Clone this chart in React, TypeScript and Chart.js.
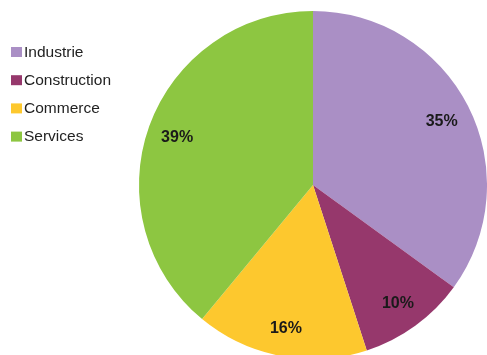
import React, { useEffect, useRef } from "react";
import { Chart, registerables } from "chart.js";

Chart.register(...registerables);

const categories = ["Industrie", "Construction", "Commerce", "Services"];
const shares = [35, 10, 16, 39];
const percentLabels = ["35%", "10%", "16%", "39%"];
const sliceColors = ["#AA8FC5", "#96386C", "#FDC82E", "#8DC641"];

const legendPlugin = {
  id: "sideLegend",
  afterDraw(chart: any) {
    const ctx = chart.ctx;
    const labels = chart.data.labels as string[];
    const colors = chart.data.datasets[0].backgroundColor as string[];
    ctx.save();
    ctx.font = "15.5px 'Liberation Sans', Arial, sans-serif";
    ctx.textBaseline = "middle";
    ctx.textAlign = "left";
    labels.forEach((lab, i) => {
      const cy = 52 + i * 28.2;
      ctx.fillStyle = colors[i];
      ctx.fillRect(11, cy - 5, 11, 10);
      ctx.fillStyle = "#222222";
      ctx.fillText(lab, 24, cy + 0.5);
    });
    ctx.restore();
  },
};

const pctPlugin = {
  id: "pctLabels",
  afterDatasetsDraw(chart: any) {
    const ctx = chart.ctx;
    const meta = chart.getDatasetMeta(0);
    ctx.save();
    ctx.font = "bold 16px 'Liberation Sans', Arial, sans-serif";
    ctx.fillStyle = "#1a1a1a";
    ctx.textAlign = "center";
    ctx.textBaseline = "middle";
    meta.data.forEach((arc: any, i: number) => {
      const { startAngle, endAngle, outerRadius, x, y } = arc.getProps(
        ["startAngle", "endAngle", "outerRadius", "x", "y"],
        true
      );
      const mid = (startAngle + endAngle) / 2;
      const d = outerRadius * 0.83;
      ctx.fillText(percentLabels[i], x + Math.cos(mid) * d, y + Math.sin(mid) * d + 2);
    });
    ctx.restore();
  },
};

export default function App() {
  const ref = useRef<HTMLCanvasElement | null>(null);
  useEffect(() => {
    if (!ref.current) return;
    const chart = new Chart(ref.current, {
      type: "pie",
      data: {
        labels: categories,
        datasets: [
          {
            data: shares,
            backgroundColor: sliceColors,
            borderWidth: 0,
          },
        ],
      },
      options: {
        animation: false,
        responsive: false,
        radius: 174,
        layout: { padding: { left: 139, right: 0, top: 15, bottom: 0 } },
        plugins: {
          legend: { display: false },
          tooltip: { enabled: false },
        },
      } as any,
      plugins: [legendPlugin, pctPlugin],
    });
    return () => chart.destroy();
  }, []);
  return (
    <div
      style={{
        position: "fixed",
        left: 0,
        top: 0,
        width: 487,
        height: 355,
        overflow: "hidden",
        background: "#ffffff",
      }}
    >
      <canvas ref={ref} width={487} height={355} style={{ display: "block" }} />
    </div>
  );
}
